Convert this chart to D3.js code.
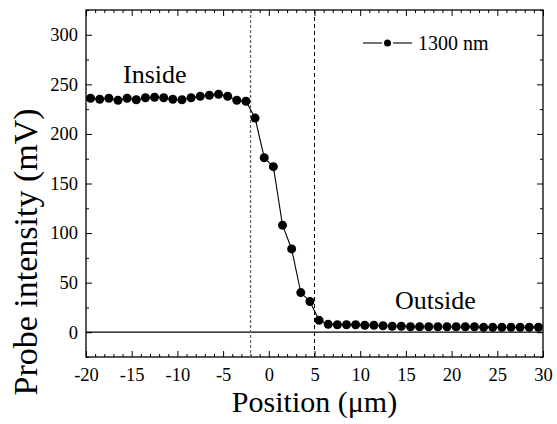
<!DOCTYPE html>
<html>
<head>
<meta charset="utf-8">
<script src="https://cdn.jsdelivr.net/npm/d3@7/dist/d3.min.js"></script>
</head>
<body style="margin:0;background:#fff">
<svg id="chart" width="557" height="424" font-family="Liberation Serif"></svg>
<script>
// Probe intensity scan across the boundary, 1300 nm probe
const positions = [
  -19.5, -18.5, -17.5, -16.5, -15.5, -14.5, -13.5, -12.5, -11.5, -10.5,
  -9.5, -8.5, -7.5, -6.5, -5.5, -4.5, -3.5, -2.5, -1.5, -0.5,
  0.5, 1.5, 2.5, 3.5, 4.5, 5.5, 6.5, 7.5, 8.5, 9.5,
  10.5, 11.5, 12.5, 13.5, 14.5, 15.5, 16.5, 17.5, 18.5, 19.5,
  20.5, 21.5, 22.5, 23.5, 24.5, 25.5, 26.5, 27.5, 28.5, 29.5
];
const intensity = [
  236, 235, 236, 234, 236, 234.5, 236.5, 237, 236.5, 235,
  234.5, 236.5, 238, 239, 240, 238, 234, 233, 216, 176,
  167, 108, 84, 40, 31, 12, 8, 7.5, 7.5, 7.5,
  7, 7, 6.5, 6, 6, 5.5, 5.5, 5.5, 5.5, 5.5,
  5.5, 5.5, 5.5, 5, 5, 5, 5, 5, 5, 5
];
const seriesName = "1300 nm";
const xTicks = [-20, -15, -10, -5, 0, 5, 10, 15, 20, 25, 30];
const yTicks = [0, 50, 100, 150, 200, 250, 300];
const boundaries = [-2, 5];
const regionLabels = [
  { text: "Inside", x: -15.95, y: 251 },
  { text: "Outside", x: 13.8, y: 23 }
];

const FONT = "Liberation Serif";
const svg = d3.select("#chart");
const m = { left: 86, right: 543, top: 10, bottom: 357 };

const x = d3.scaleLinear().domain([-20, 30]).range([m.left, m.right]);
const y = d3.scaleLinear().domain([-25, 325]).range([m.bottom, m.top]);

const plotW = m.right - m.left, plotH = m.bottom - m.top;

// frame
svg.append("rect")
  .attr("x", m.left).attr("y", m.top)
  .attr("width", plotW).attr("height", plotH)
  .attr("fill", "none").attr("stroke", "#000").attr("stroke-width", 1.3);

const xMinor = d3.range(-20, 31, 1).filter(v => v % 5 !== 0);
const yMinor = d3.range(-25, 326, 25).filter(v => v % 50 !== 0);
const plain = d => String(d);

function styleAxis(g) {
  g.attr("font-family", FONT).attr("font-size", 18.5);
  g.select(".domain").remove();
  g.selectAll("line").attr("stroke", "#000").attr("stroke-width", 1);
  g.selectAll("text").attr("fill", "#000").attr("font-size", 18.5).attr("font-family", FONT);
}

// bottom axis with inward ticks
svg.append("g").attr("transform", `translate(0,${m.bottom})`)
  .call(d3.axisBottom(x).tickValues(xTicks).tickSizeInner(-6).tickSizeOuter(0).tickPadding(11)
    .tickFormat(plain))
  .call(styleAxis);
svg.append("g").attr("transform", `translate(0,${m.bottom})`)
  .call(d3.axisBottom(x).tickValues(xMinor).tickSizeInner(-3).tickSizeOuter(0).tickFormat(""))
  .call(styleAxis);
// top axis ticks
svg.append("g").attr("transform", `translate(0,${m.top})`)
  .call(d3.axisTop(x).tickValues(xTicks).tickSizeInner(-6).tickSizeOuter(0).tickFormat(""))
  .call(styleAxis);
svg.append("g").attr("transform", `translate(0,${m.top})`)
  .call(d3.axisTop(x).tickValues(xMinor).tickSizeInner(-3).tickSizeOuter(0).tickFormat(""))
  .call(styleAxis);
// left axis
svg.append("g").attr("transform", `translate(${m.left},0)`)
  .call(d3.axisLeft(y).tickValues(yTicks).tickSizeInner(-6).tickSizeOuter(0).tickPadding(8)
    .tickFormat(plain))
  .call(styleAxis);
svg.append("g").attr("transform", `translate(${m.left},0)`)
  .call(d3.axisLeft(y).tickValues(yMinor).tickSizeInner(-3).tickSizeOuter(0).tickFormat(""))
  .call(styleAxis);
// right axis ticks
svg.append("g").attr("transform", `translate(${m.right},0)`)
  .call(d3.axisRight(y).tickValues(yTicks).tickSizeInner(-6).tickSizeOuter(0).tickFormat(""))
  .call(styleAxis);
svg.append("g").attr("transform", `translate(${m.right},0)`)
  .call(d3.axisRight(y).tickValues(yMinor).tickSizeInner(-3).tickSizeOuter(0).tickFormat(""))
  .call(styleAxis);

// zero baseline
svg.append("line")
  .attr("x1", m.left).attr("x2", m.right)
  .attr("y1", y(0)).attr("y2", y(0))
  .attr("stroke", "#000").attr("stroke-width", 1.3);

// boundary markers
svg.append("line")
  .attr("x1", x(boundaries[0])).attr("x2", x(boundaries[0]))
  .attr("y1", m.top).attr("y2", m.bottom)
  .attr("stroke", "#666").attr("stroke-width", 1.3).attr("stroke-dasharray", "3,2");
svg.append("line")
  .attr("x1", x(boundaries[1])).attr("x2", x(boundaries[1]))
  .attr("y1", m.top).attr("y2", m.bottom)
  .attr("stroke", "#000").attr("stroke-width", 1).attr("stroke-dasharray", "4,3");

// data line + markers
const pts = positions.map((p, i) => [p, intensity[i]]);
svg.append("path")
  .datum(pts)
  .attr("fill", "none").attr("stroke", "#000").attr("stroke-width", 1.1)
  .attr("d", d3.line().x(d => x(d[0])).y(d => y(d[1])));
svg.append("g").selectAll("circle").data(pts).join("circle")
  .attr("cx", d => x(d[0])).attr("cy", d => y(d[1]))
  .attr("r", 4.5).attr("fill", "#000");

// region labels
svg.append("g").selectAll("text").data(regionLabels).join("text")
  .attr("x", d => x(d.x)).attr("y", d => y(d.y))
  .attr("font-family", FONT).attr("font-size", 26).attr("fill", "#000")
  .text(d => d.text);

// legend: line – marker – line, then series name
const lg = svg.append("g").attr("transform", "translate(363,43)");
lg.append("line").attr("x1", 0).attr("x2", 19).attr("y1", 0).attr("y2", 0)
  .attr("stroke", "#000").attr("stroke-width", 1.1);
lg.append("line").attr("x1", 30).attr("x2", 49).attr("y1", 0).attr("y2", 0)
  .attr("stroke", "#000").attr("stroke-width", 1.1);
lg.append("circle").attr("cx", 24.5).attr("cy", 0).attr("r", 3.5).attr("fill", "#000");
lg.append("text").attr("x", 55).attr("y", 6.5)
  .attr("font-family", FONT).attr("font-size", 20).text(seriesName);

// axis titles
svg.append("text")
  .attr("x", (m.left + m.right) / 2).attr("y", 412)
  .attr("text-anchor", "middle").attr("font-family", FONT).attr("font-size", 30)
  .text("Position (\u03bcm)");
svg.append("text")
  .attr("transform", "translate(37,252) rotate(-90)")
  .attr("text-anchor", "middle").attr("font-family", FONT).attr("font-size", 34)
  .text("Probe intensity (mV)");
</script>
</body>
</html>
